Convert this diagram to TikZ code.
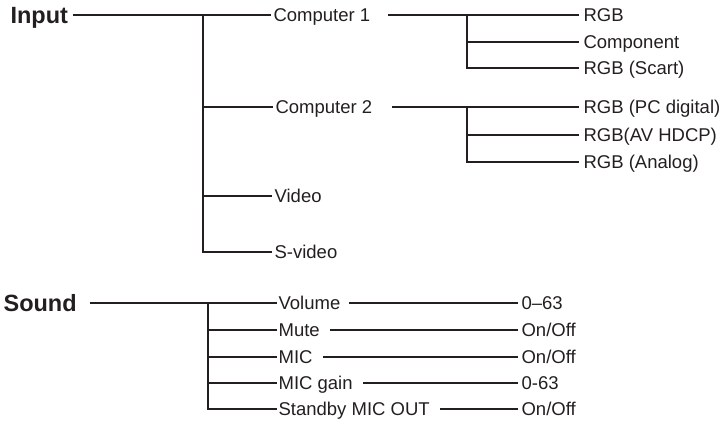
\documentclass[tikz,border=0pt]{standalone}
\usepackage{fontspec}
\setmainfont{Liberation Sans}
\usetikzlibrary{calc}

\definecolor{ink}{HTML}{231F20}

\begin{document}
\begin{tikzpicture}[x=1pt, y=-1pt, color=ink, line width=1.2pt,
  item/.style={anchor=west, inner sep=0pt, text height=13.3pt, text depth=0pt,
    font=\fontsize{18.5}{20}\selectfont},
  head/.style={anchor=west, inner sep=0pt, text height=16.8pt, text depth=0pt,
    font=\fontsize{23.5}{26}\selectfont\bfseries}]

\useasboundingbox (0,0) rectangle (723,422);

\node[head] (input) at (10,15) {Input};
\node[item] (comp1) at (273,15) {Computer 1};
\node[item] (comp2) at (275,107) {Computer 2};
\node[item] (video) at (274,196) {Video};
\node[item] (svideo) at (274,252) {S-video};

\coordinate (inT) at (203,15);
\draw[shorten <=4pt, shorten >=2pt] (input) -- (comp1);
\draw[shorten >=2pt] (inT) |- (comp2);
\draw[shorten >=2pt] (inT) |- (video);
\draw[shorten >=2pt] (inT) |- (svideo);

\node[item] (rgb) at (583,15) {RGB};
\node[item] (component) at (583,42) {Component};
\node[item] (scart) at (583,68) {RGB (Scart)};

\coordinate (c1T) at (467,15);
\draw[shorten <=17pt, shorten >=4pt] (comp1) -- (rgb);
\draw[shorten >=4pt] (c1T) |- (component);
\draw[shorten >=4pt] (c1T) |- (scart);

\node[item] (pcdig) at (583,107) {RGB (PC digital)};
\node[item] (avhdcp) at (583,135) {RGB(AV HDCP)};
\node[item] (analog) at (583,162) {RGB (Analog)};

\coordinate (c2T) at (467,107);
\draw[shorten <=19pt, shorten >=4pt] (comp2) -- (pcdig);
\draw[shorten >=4pt] (c2T) |- (avhdcp);
\draw[shorten >=4pt] (c2T) |- (analog);

\node[head] (sound) at (3,303) {Sound};
\node[item] (volume) at (278,303) {Volume};
\node[item] (mute) at (278,330) {Mute};
\node[item] (mic) at (278,357) {MIC};
\node[item] (micgain) at (278,383) {MIC gain};
\node[item] (standby) at (278,409) {Standby MIC OUT};

\coordinate (sT) at (208,303);
\draw[shorten <=13pt, shorten >=1pt] (sound) -- (volume);
\draw[shorten >=1pt] (sT) |- (mute);
\draw[shorten >=1pt] (sT) |- (mic);
\draw[shorten >=1pt] (sT) |- (micgain);
\draw[shorten >=1pt] (sT) |- (standby);

\node[item] (volval) at (521,303) {0–63};
\node[item] (muteval) at (521,330) {On/Off};
\node[item] (micval) at (521,357) {On/Off};
\node[item] (gainval) at (521,383) {0-63};
\node[item] (standval) at (521,409) {On/Off};

\draw[shorten <=8pt, shorten >=3pt] (volume) -- (volval);
\draw[shorten <=10pt, shorten >=3pt] (mute) -- (muteval);
\draw[shorten <=10pt, shorten >=3pt] (mic) -- (micval);
\draw[shorten <=10pt, shorten >=3pt] (micgain) -- (gainval);
\draw[shorten <=10pt, shorten >=3pt] (standby) -- (standval);

\end{tikzpicture}
\end{document}
